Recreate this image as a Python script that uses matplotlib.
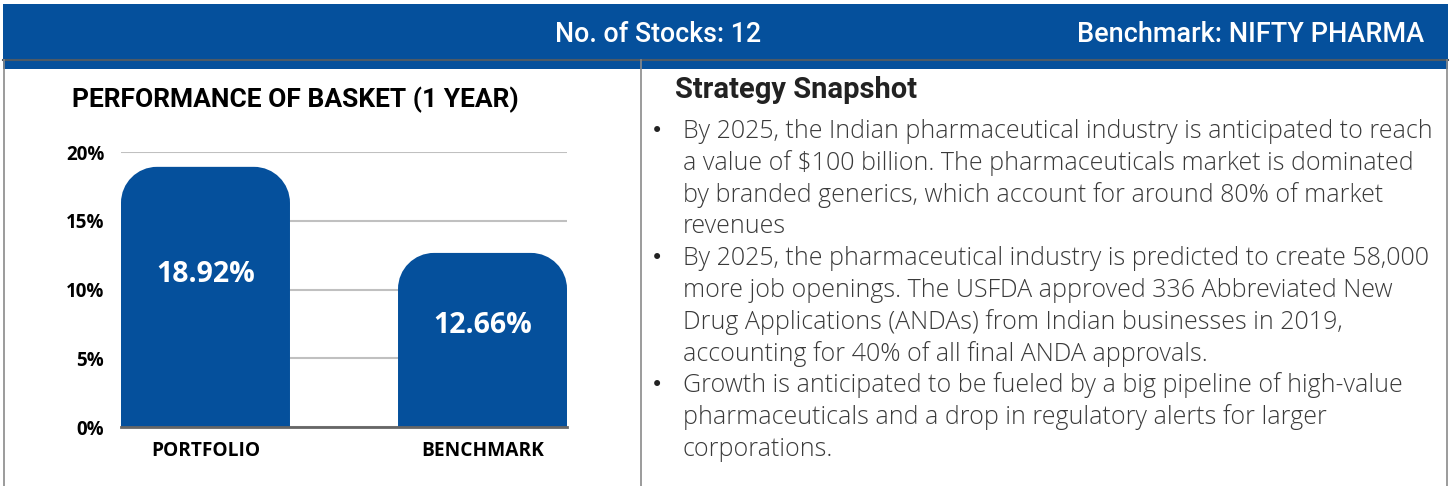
import numpy as np
import matplotlib
matplotlib.use('Agg')
from matplotlib import pyplot as plt
from matplotlib.patches import Rectangle, PathPatch
from matplotlib.path import Path

W, H = 1452, 486
BLUE = '#05509c'

categories = ['PORTFOLIO', 'BENCHMARK']
returns = [18.92, 12.66]
value_labels = ['18.92%', '12.66%']
yticks = [0, 5, 10, 15, 20]
ytick_labels = ['0%', '5%', '10%', '15%', '20%']

header_left = 'No. of Stocks: 12'
header_right = 'Benchmark: NIFTY PHARMA'
chart_title = 'PERFORMANCE OF BASKET (1 YEAR)'
snapshot_title = 'Strategy Snapshot'
bullets = [
    ['By 2025, the Indian pharmaceutical industry is anticipated to reach',
     'a value of $100 billion. The pharmaceuticals market is dominated',
     'by branded generics, which account for around 80% of market',
     'revenues'],
    ['By 2025, the pharmaceutical industry is predicted to create 58,000',
     'more job openings. The USFDA approved 336 Abbreviated New',
     'Drug Applications (ANDAs) from Indian businesses in 2019,',
     'accounting for 40% of all final ANDA approvals.'],
    ['Growth is anticipated to be fueled by a big pipeline of high-value',
     'pharmaceuticals and a drop in regulatory alerts for larger',
     'corporations.'],
]


def fx(x):
    return x / W


def fy(y):
    return 1 - y / H


fig = plt.figure(figsize=(W / 100, H / 100), dpi=100)

# header band and frame
fig.patches.append(Rectangle((fx(3), fy(69)), fx(1445), 65 / H, transform=fig.transFigure,
                             facecolor=BLUE, edgecolor='none', zorder=0))
fig.add_artist(plt.Line2D([fx(3), fx(1448)], [fy(60), fy(60)], color='#4d5a66', lw=1.5))
for xl in [4, 641, 1447]:
    fig.add_artist(plt.Line2D([fx(xl), fx(xl)], [fy(60), fy(486)], color='#8a8a8a', lw=1.2))

fig.text(fx(658), fy(34), header_left, color='white', fontsize=19.3, family='Roboto',
         weight='medium', ha='center', va='center')
fig.text(fx(1424), fy(34), header_right, color='white', fontsize=19.5, family='Roboto',
         weight='medium', ha='right', va='center')

# chart
fig.text(fx(72), fy(100), chart_title, color='black', fontsize=19, family='Roboto',
         weight='bold', ha='left', va='center')

ax = fig.add_axes([fx(121), fy(427), 446 / W, 275 / H])
ax.set_xlim(-0.305, 1.305)
ax.set_ylim(0, 20)
x = np.arange(len(categories))
bars = ax.bar(x, returns, width=0.61, color=BLUE, zorder=2)
fig.canvas.draw()

# replace square tops with rounded ones
inv = ax.transData.inverted()
r_px = 36
for b in bars:
    x0, y0 = b.get_x(), b.get_y()
    x1, y1 = x0 + b.get_width(), y0 + b.get_height()
    p0 = ax.transData.transform((0, 0))
    rx = inv.transform(p0 + np.array([r_px, 0]))[0]
    ry = inv.transform(p0 + np.array([0, r_px]))[1]
    k = 0.5523
    verts = [(x0, y0), (x0, y1 - ry),
             (x0, y1 - ry + k * ry), (x0 + rx - k * rx, y1), (x0 + rx, y1),
             (x1 - rx, y1),
             (x1 - rx + k * rx, y1), (x1, y1 - ry + k * ry), (x1, y1 - ry),
             (x1, y0), (x0, y0)]
    codes = [Path.MOVETO, Path.LINETO,
             Path.CURVE4, Path.CURVE4, Path.CURVE4,
             Path.LINETO,
             Path.CURVE4, Path.CURVE4, Path.CURVE4,
             Path.LINETO, Path.CLOSEPOLY]
    ax.add_patch(PathPatch(Path(verts, codes), facecolor=BLUE, edgecolor='none', zorder=2))
    b.set_visible(False)

for xi, v, lab in zip(x, returns, value_labels):
    ax.text(xi, v * 0.585, lab, color='white', fontsize=20.5,
            family='Open Sans', weight='bold', ha='center', va='center', zorder=3)

ax.set_yticks(yticks)
ax.set_yticklabels(ytick_labels, fontsize=13.5, family='Open Sans', weight='bold')
ax.set_xticks(x)
ax.set_xticklabels(categories, fontsize=13.8, family='Open Sans', weight='bold')
ax.tick_params(axis='y', length=0, pad=12)
ax.tick_params(axis='x', length=0, pad=10)
ax.yaxis.grid(True, color='#c0c0c0', lw=1.5, zorder=0)
ax.set_axisbelow(True)
for s in ['top', 'right', 'left']:
    ax.spines[s].set_visible(False)
ax.spines['bottom'].set_color('#666666')
ax.spines['bottom'].set_linewidth(2)
ax.spines['bottom'].set_zorder(3)

# snapshot text
fig.text(fx(675), fy(90), snapshot_title, color='#222222', fontsize=21, family='Roboto',
         weight='bold', ha='left', va='center')

y = 131
for para in bullets:
    fig.text(fx(657), fy(y), '\u2022', color='#222222', fontsize=15, family='DejaVu Sans',
             ha='center', va='center')
    for line in para:
        fig.text(fx(683), fy(y), line, color='#3a3a3a', fontsize=18, family='Open Sans',
                 weight='light', ha='left', va='center')
        y += 31.8

fig.savefig('out.png', dpi=100)
